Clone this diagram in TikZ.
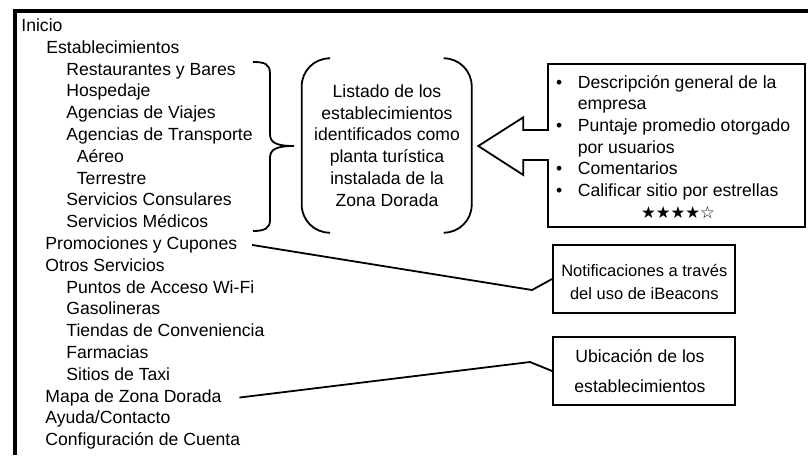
\documentclass[tikz,border=0pt]{standalone}
\usepackage{fontspec}
\setmainfont{Liberation Sans}
\newfontfamily\starfont{DejaVu Sans}
\begin{document}
\begin{tikzpicture}[x=1pt,y=-1pt, line width=1.8pt, line join=miter,
  txt/.style={inner sep=0pt, font=\fontsize{17.6}{21.7}\selectfont},
  item/.style={txt, anchor=base west},
  frame/.style={line width=4pt},
  box/.style={draw, inner sep=0pt, minimum width=182pt, minimum height=68pt}]
\useasboundingbox (0,0) rectangle (808,455);
\draw[frame] (15,455) -- (15,10.5) -- (808,10.5);

% menu tree
\node[item] (inicio) at (20.5,31.5) {Inicio};
\node[item] (estab) at (45.5,53.3) {Establecimientos};
\node[item] (rest) at (65.5,75.1) {Restaurantes y Bares};
\node[item] (hosp) at (65.5,96.9) {Hospedaje};
\node[item] (viajes) at (65.5,118.7) {Agencias de Viajes};
\node[item] (transp) at (65.5,140.5) {Agencias de Transporte};
\node[item] (aereo) at (76,162.3) {Aéreo};
\node[item] (terr) at (76,184.1) {Terrestre};
\node[item] (consul) at (65.5,205.9) {Servicios Consulares};
\node[item] (medicos) at (65.5,227.7) {Servicios Médicos};
\node[item] (promo) at (44.5,249.5) {Promociones y Cupones};
\node[item] (otros) at (44.5,271.3) {Otros Servicios};
\node[item] (wifi) at (65.5,293.1) {Puntos de Acceso Wi-Fi};
\node[item] (gas) at (65.5,314.9) {Gasolineras};
\node[item] (tiendas) at (65.5,336.7) {Tiendas de Conveniencia};
\node[item] (farm) at (65.5,358.5) {Farmacias};
\node[item] (taxi) at (65.5,380.3) {Sitios de Taxi};
\node[item] (mapa) at (44.5,402.1) {Mapa de Zona Dorada};
\node[item] (ayuda) at (44.5,423.9) {Ayuda/Contacto};
\node[item] (config) at (44.5,445.7) {Configuración de Cuenta};

% right brace
\draw (253,62) .. controls (265,62) and (270,64) .. (270,74) -- (270,134)
  .. controls (270,142) and (275,146) .. (294,146)
  .. controls (275,146) and (270,150) .. (270,158) -- (270,220)
  .. controls (270,228) and (265,231) .. (253,231);

% bracket pair
\draw[rounded corners=28pt] (330,58.3) -- (301.7,58.3) -- (301.7,232.7) -- (330,232.7);
\draw[rounded corners=28pt] (444,58.3) -- (471.7,58.3) -- (471.7,232.7) -- (444,232.7);
\node[txt, anchor=base] (listado) at (387,97.5) {\begin{tabular}[t]{@{}c@{}}Listado de los\\establecimientos\\identificados como\\planta turística\\instalada de la\\Zona Dorada\end{tabular}};

% arrow callout
\draw (548,64) -- (805,64) -- (805,227) -- (548,227) -- (548,160) -- (523.3,160)
  -- (523.3,175) -- (478.3,146) -- (523.3,117.3) -- (523.3,130) -- (548,130) -- cycle;
\node[item] (desc) at (555.2,88) {\begin{tabular}[t]{@{}p{21.8pt}@{}l@{}}\textbullet & Descripción general de la\\ & empresa\\ \textbullet & Puntaje promedio otorgado\\ & por usuarios\\ \textbullet & Comentarios\\ \textbullet & Calificar sitio por estrellas\end{tabular}};
\node[inner sep=0pt, anchor=base, font=\starfont\fontsize{16.5}{16.5}\selectfont] (stars) at (678,218) {★★★★☆};

% side boxes
\node[box] (notif) at (644,279) {};
\node[txt, anchor=base, font=\fontsize{16.5}{23}\selectfont] (notiftxt) at (644.3,276.5) {\begin{tabular}[t]{@{}c@{}}Notificaciones a través\\del uso de iBeacons\end{tabular}};
\node[box] (ubic) at (644,371) {};
\node[txt, anchor=base, font=\fontsize{17.6}{30}\selectfont] (ubictxt) at (640,362.5) {\begin{tabular}[t]{@{}c@{}}Ubicación de los\\establecimientos\end{tabular}};

% connectors
\coordinate (k1) at (532,290);
\draw ([xshift=14pt]promo.east) -- (k1) -- (notif.west);
\coordinate (k2) at (530,362);
\draw ([xshift=17pt]mapa.east) -- (k2) -- (ubic.west);
\end{tikzpicture}
\end{document}
